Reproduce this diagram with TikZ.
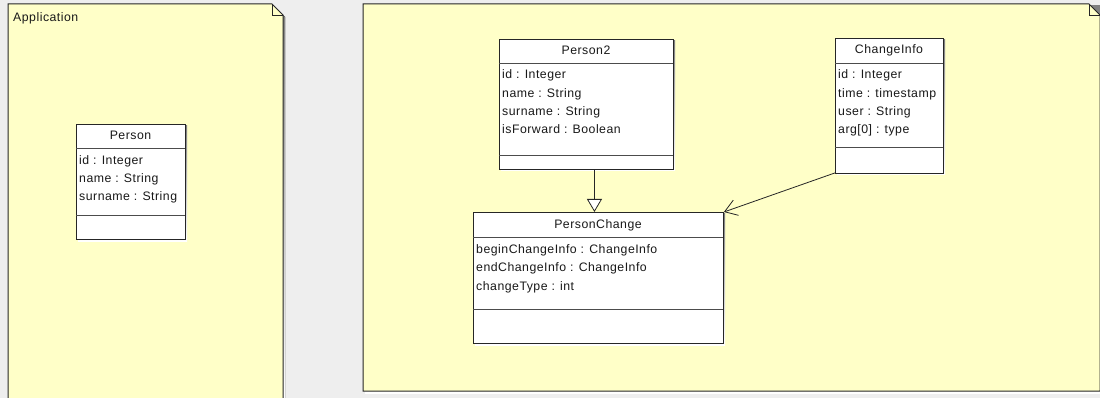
\documentclass[tikz,border=0pt]{standalone}
\usepackage{fontspec}
\setmainfont{Liberation Sans}[LetterSpace=4]
\usetikzlibrary{arrows.meta}
\definecolor{bg}{HTML}{EEEEEE}
\definecolor{note}{HTML}{FFFFC8}
\definecolor{shade}{HTML}{8C8C8C}
\begin{document}
\begin{tikzpicture}[x=1pt,y=-1pt,
  panel/.style={fill=note,draw=black!85,line width=1pt},
  classbox/.style={draw=black!85,fill=white,line width=0.9pt,inner sep=0pt,anchor=north west},
  sep/.style={draw=black!70,line width=0.9pt},
  txt/.style={font=\fontsize{12.3}{14}\selectfont,inner sep=0pt,text=black!90},
  hdr/.style={txt,anchor=base},
  attr/.style={txt,anchor=base west},
  gen/.style={draw=black!85,line width=0.8pt,-{Triangle[open,length=13pt,width=15pt,fill=white]}},
  assoc/.style={draw=black!85,line width=0.8pt,-{Straight Barb[length=12pt,width=16pt]}},
]
\useasboundingbox (0,0) rectangle (1100,398);
\clip (0,0) rectangle (1100,398);
\fill[bg] (0,0) rectangle (1100,398);

% panels (shadows)
\fill[shade] (10,6) -- (274,6) -- (285,17) -- (285,402) -- (10,402) -- cycle;
\fill[shade] (365,6) -- (1100,6) -- (1100,393) -- (365,393) -- cycle;
% left panel
\draw[panel] (8,4) -- (272,4) -- (283,15) -- (283,402) -- (8,402) -- cycle;
\draw[black!85,line width=0.8pt] (272,4) -- (272,15) -- (283,15);
\node[txt,anchor=base west] (applabel) at (13,22) {Application};
% right panel
\draw[panel] (363,4) -- (1089,4) -- (1100,15) -- (1100,391) -- (363,391) -- cycle;
\draw[black!85,line width=0.8pt] (1089,4) -- (1089,15) -- (1100,15);

% Person
\fill[shade] (78,126) rectangle (187,241);
\node[classbox,minimum width=109pt,minimum height=115pt] (person) at (76,124) {};
\draw[sep] (76,148) -- (185,148);
\draw[sep] (76,215) -- (185,215);
\node[hdr] (personh) at (130.5,139.5) {Person};
\foreach \t [count=\i] in {id : Integer,name : String,surname : String}
  \node[attr] (persona\i) at (79,{146+18.3*\i}) {\t};

% Person2
\fill[shade] (501,41) rectangle (675,171);
\node[classbox,minimum width=174pt,minimum height=130pt] (person2) at (499,39) {};
\draw[sep] (499,63) -- (673,63);
\draw[sep] (499,155) -- (673,155);
\node[hdr] (person2h) at (586,54.5) {Person2};
\foreach \t [count=\i] in {id : Integer,name : String,surname : String,isForward : Boolean}
  \node[attr] (person2a\i) at (502,{60.7+18.3*\i}) {\t};

% ChangeInfo
\fill[shade] (837,40) rectangle (945,175);
\node[classbox,minimum width=108pt,minimum height=135pt] (ci) at (835,38) {};
\draw[sep] (835,63) -- (943,63);
\draw[sep] (835,147) -- (943,147);
\node[hdr] (cih) at (889,54) {ChangeInfo};
\foreach \t [count=\i] in {id : Integer,time : timestamp,user : String,arg[0] : type}
  \node[attr] (cia\i) at (838,{60.7+18.3*\i}) {\t};

% PersonChange
\fill[shade] (475,214) rectangle (725,345);
\node[classbox,minimum width=250pt,minimum height=131pt] (pc) at (473,212) {};
\draw[sep] (473,237) -- (723,237);
\draw[sep] (473,309) -- (723,309);
\node[hdr] (pch) at (598,228.5) {PersonChange};
\foreach \t [count=\i] in {beginChangeInfo : ChangeInfo,endChangeInfo : ChangeInfo,changeType : int}
  \node[attr] (pca\i) at (476,{235.3+18.3*\i}) {\t};

% connectors
\draw[gen] ([xshift=8pt]person2.south) -- ([xshift=8pt]person2.south |- pc.north);
\draw[assoc] ([yshift=1pt]ci.south west) -- (pc.north east);
\end{tikzpicture}
\end{document}
